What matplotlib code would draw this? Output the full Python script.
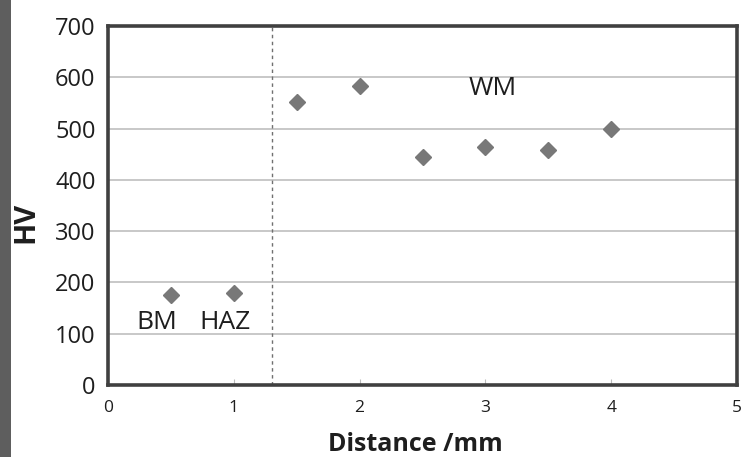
import matplotlib
matplotlib.use("Agg")
import matplotlib.pyplot as plt
from matplotlib.patches import Rectangle

# Data
distance = [0.5, 1.0, 1.5, 2.0, 2.5, 3.0, 3.5, 4.0]
hardness = [175, 179, 552, 583, 445, 464, 458, 499]
boundary_x = 1.3
zone_labels = ["BM", "HAZ", "WM"]
zone_label_x = [0.39, 0.93, 3.06]
zone_label_y = [122, 122, 579]
x_ticks = [0, 1, 2, 3, 4, 5]
y_ticks = [0, 100, 200, 300, 400, 500, 600, 700]

plt.rcParams['font.family'] = ['Open Sans', 'DejaVu Sans']

fig = plt.figure(figsize=(7.44, 4.57), dpi=100)
# dark textured-looking border strip at left edge
fig.patches.append(Rectangle((0, 0), 0.015, 1, transform=fig.transFigure,
                             facecolor='#5e5e5e', edgecolor='none', zorder=0))
ax = fig.add_axes([0.1452, 0.1575, 0.8454, 0.7856])

ax.plot(distance, hardness, linestyle='none', marker='D', markersize=8.5,
        color='#787878', markeredgecolor='#787878', zorder=3)
ax.axvline(boundary_x, color='#707070', linestyle=(0, (2.5, 2.5)), linewidth=1.0, zorder=2)

for lab, lx, ly in zip(zone_labels, zone_label_x, zone_label_y):
    ax.text(lx, ly, lab, ha='center', va='center', fontsize=19, color='#1e1e1e')

ax.set_xlim(0, 5)
ax.set_ylim(0, 700)
ax.set_xticks(x_ticks)
ax.set_yticks(y_ticks)
ax.yaxis.grid(True, color='#c4c4c4', linewidth=1.3)
ax.set_axisbelow(True)
ax.tick_params(axis='x', direction='in', length=4, color='#bbbbbb', labelsize=12.5,
               pad=11, labelcolor='#1e1e1e')
ax.tick_params(axis='y', length=0, labelsize=17, pad=9, labelcolor='#1e1e1e')
for s in ax.spines.values():
    s.set_linewidth(2.6)
    s.set_color('#404040')

ax.set_xlabel('Distance /mm', fontsize=18, fontweight='bold', color='#1e1e1e')
ax.set_ylabel('HV', fontsize=21, fontweight='bold', color='#1e1e1e')
ax.xaxis.label.set_verticalalignment('baseline')
ax.yaxis.label.set_verticalalignment('baseline')
ax.xaxis.set_label_coords(0.488, -0.184)
ax.yaxis.set_label_coords(-0.119, 0.454)

fig.savefig('out.png', dpi=100)
